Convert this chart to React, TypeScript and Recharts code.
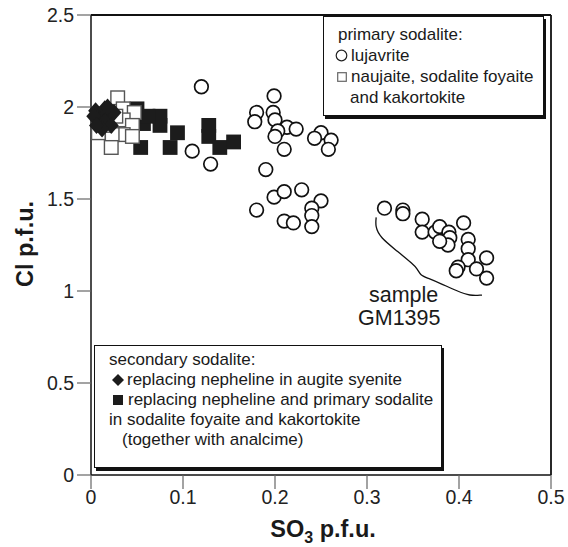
import { ScatterChart, Scatter, XAxis, YAxis, ReferenceLine } from "recharts"

const FONT = "'Liberation Sans', Arial, Helvetica, sans-serif"

const so3Ticks = [0, 0.1, 0.2, 0.3, 0.4, 0.5]
const clTicks = [0, 0.5, 1, 1.5, 2, 2.5]

// primary sodalite, lujavrite
const lujavriteSO3 = [
 0.120, 0.110, 0.130, 0.199, 0.180, 0.178, 0.198, 0.200, 0.213, 0.223, 0.203, 0.200,
 0.210, 0.250, 0.243, 0.261, 0.258, 0.190, 0.199, 0.210, 0.229, 0.180, 0.210, 0.220,
 0.250, 0.240, 0.240, 0.240, 0.319, 0.339, 0.339, 0.360, 0.360, 0.374, 0.379, 0.389,
 0.390, 0.388, 0.379, 0.405, 0.410, 0.410, 0.410, 0.430, 0.399, 0.397, 0.419, 0.430
]
const lujavriteCl = [
 2.11, 1.76, 1.69, 2.06, 1.97, 1.92, 1.97, 1.93, 1.89, 1.88, 1.87, 1.84,
 1.77, 1.86, 1.83, 1.82, 1.77, 1.66, 1.51, 1.54, 1.55, 1.44, 1.38, 1.37,
 1.49, 1.45, 1.41, 1.35, 1.45, 1.44, 1.42, 1.39, 1.32, 1.32, 1.35, 1.32,
 1.29, 1.25, 1.27, 1.37, 1.28, 1.23, 1.17, 1.18, 1.13, 1.11, 1.12, 1.07
]

// primary sodalite, naujaite / sodalite foyaite / kakortokite
const naujaiteSO3 = [0.029, 0.035, 0.047, 0.035, 0.045, 0.035, 0.023, 0.022, 0.008, 0.045, 0.015, 0.027]
const naujaiteCl = [2.05, 1.99, 1.97, 1.93, 1.90, 1.85, 1.85, 1.78, 1.86, 1.84, 1.90, 1.95]

// secondary sodalite replacing nepheline (+ primary sodalite)
const replacingSO3 = [0.050, 0.057, 0.075, 0.075, 0.094, 0.054, 0.086, 0.128, 0.128, 0.140, 0.155, 0.062]
const replacingCl = [1.99, 1.91, 1.95, 1.90, 1.86, 1.78, 1.78, 1.90, 1.84, 1.78, 1.81, 1.95]

// secondary sodalite in augite syenite
const augiteSO3 = [0.005, 0.010, 0.015, 0.020, 0.008, 0.015, 0.022, 0.012, 0.003, 0.025, 0.018, 0.006]
const augiteCl = [1.98, 1.96, 1.99, 1.95, 1.93, 1.92, 1.90, 1.88, 1.95, 1.97, 2.00, 1.90]

// bracket around sample GM1395
const bracketSO3 = [0.310, 0.309, 0.314, 0.333, 0.350, 0.355, 0.358, 0.366, 0.379, 0.398, 0.412, 0.425]
const bracketCl = [1.400, 1.351, 1.292, 1.216, 1.146, 1.119, 1.086, 1.070, 1.043, 1.000, 0.973, 0.978]

const pts = (xs: number[], ys: number[]) => xs.map((x, i) => ({ so3: x, cl: ys[i] }))

const OpenCircle = (p: any) => (
 <circle cx={p.cx} cy={p.cy} r={6.8} fill="#fff" stroke="#111" strokeWidth={1.7} />
)
const OpenSquare = (p: any) => (
 <rect x={p.cx - 6.8} y={p.cy - 6.8} width={13.6} height={13.6} fill="#fff" stroke="#555" strokeWidth={1.4} />
)
const FilledSquare = (p: any) => (
 <rect x={p.cx - 7.4} y={p.cy - 7.4} width={14.8} height={14.8} fill="#1c1c1c" />
)
const Diamond = (p: any) => (
 <path d={`M${p.cx},${p.cy - 8.5}L${p.cx + 7.5},${p.cy}L${p.cx},${p.cy + 8.5}L${p.cx - 7.5},${p.cy}Z`} fill="#1c1c1c" />
)
const NoMark = () => <g />

const YTitle = () => (
 <text x={25} y={244} transform="rotate(-90 25 244)" textAnchor="middle" dominantBaseline="central"
  fontFamily={FONT} fontWeight="bold" fontSize={23.5} fill="#1a1a1a">
  Cl p.f.u.
 </text>
)
const XTitle = () => (
 <text x={323} y={537} textAnchor="middle" fontFamily={FONT} fontWeight="bold" fontSize={23.5} fill="#1a1a1a">
  <tspan>SO</tspan>
  <tspan dy={6} fontSize={16}>3</tspan>
  <tspan dy={-6}> p.f.u.</tspan>
 </text>
)

const legendText: any = { fontFamily: FONT, fontSize: 17, color: "#1a1a1a", lineHeight: "21px", whiteSpace: "nowrap" }

export default function App() {
 return (
  <div style={{ position: "absolute", left: 0, top: 0, width: 568, height: 547, background: "#fff" }}>
   <ScatterChart width={568} height={547} margin={{ top: 15, right: 17, bottom: 32, left: 31 }}>
    <XAxis type="number" dataKey="so3" domain={[0, 0.5]} ticks={so3Ticks} height={40}
     tickSize={14} tickMargin={1} axisLine={{ stroke: "#111", strokeWidth: 1.5 }}
     tickLine={{ stroke: "#666", strokeWidth: 1.2 }}
     tick={{ fontSize: 19.5, fill: "#222", fontFamily: FONT }} label={<XTitle />} />
    <YAxis type="number" dataKey="cl" domain={[0, 2.5]} ticks={clTicks} width={60}
     tickSize={14} tickMargin={3} axisLine={{ stroke: "#111", strokeWidth: 1.5 }}
     tickLine={{ stroke: "#666", strokeWidth: 1.2 }}
     tick={{ fontSize: 19.5, fill: "#222", fontFamily: FONT }} label={<YTitle />} />
    <ReferenceLine y={2.5} stroke="#111" strokeWidth={1.8} />
    <ReferenceLine x={0.5} stroke="#111" strokeWidth={1.8} />
    <Scatter data={pts(lujavriteSO3, lujavriteCl)} shape={OpenCircle} isAnimationActive={false} />
    <Scatter data={pts(replacingSO3, replacingCl)} shape={FilledSquare} isAnimationActive={false} />
    <Scatter data={pts(naujaiteSO3, naujaiteCl)} shape={OpenSquare} isAnimationActive={false} />
    <Scatter data={pts(augiteSO3, augiteCl)} shape={Diamond} isAnimationActive={false} />
    <Scatter data={pts(bracketSO3, bracketCl)} shape={NoMark} line={{ stroke: "#111", strokeWidth: 1.3 }}
     lineJointType="basis" isAnimationActive={false} />
   </ScatterChart>

   <div style={{ ...legendText, position: "absolute", left: 369, top: 284, fontSize: 21.5, lineHeight: "23px" }}>
    sample<br />
    <span style={{ marginLeft: -11 }}>GM1395</span>
   </div>

   <div style={{
    position: "absolute", left: 323, top: 16, width: 221, height: 100, boxSizing: "border-box",
    border: "1.5px solid #111", boxShadow: "2px 3px 0 #111", background: "#fff", padding: "7px 0 0 14px"
   }}>
    <div style={legendText}>primary sodalite:</div>
    <div style={{ ...legendText, marginLeft: -3 }}>
     <svg width={13} height={13} style={{ verticalAlign: -1, marginRight: 3 }}>
      <circle cx={6.5} cy={6.5} r={5.3} fill="#fff" stroke="#222" strokeWidth={1.2} />
     </svg>
     lujavrite
    </div>
    <div style={{ ...legendText, marginLeft: -1 }}>
     <svg width={10} height={10} style={{ verticalAlign: 0, marginRight: 4 }}>
      <rect x={0.7} y={0.7} width={8.6} height={8.6} fill="#fff" stroke="#666" strokeWidth={1.2} />
     </svg>
     naujaite, sodalite foyaite
    </div>
    <div style={{ ...legendText, marginLeft: 12 }}>and kakortokite</div>
   </div>

   <div style={{
    position: "absolute", left: 94, top: 345, width: 348, height: 123, boxSizing: "border-box",
    border: "1.5px solid #111", boxShadow: "2px 3px 0 #111", background: "#fff", padding: "4px 0 0 14px",
    ...{ lineHeight: "20px" }
   }}>
    <div style={{ ...legendText, lineHeight: "20px" }}>secondary sodalite:</div>
    <div style={{ ...legendText, lineHeight: "20px", marginLeft: 3 }}>
     <svg width={12} height={12} style={{ verticalAlign: -1, marginRight: 3 }}>
      <path d="M6,0L12,6L6,12L0,6Z" fill="#1c1c1c" />
     </svg>
     replacing nepheline in augite syenite
    </div>
    <div style={{ ...legendText, lineHeight: "20px", marginLeft: 4 }}>
     <svg width={10} height={10} style={{ verticalAlign: 0, marginRight: 5 }}>
      <rect x={0} y={0} width={10} height={10} fill="#1c1c1c" />
     </svg>
     replacing nepheline and primary sodalite
    </div>
    <div style={{ ...legendText, lineHeight: "20px" }}>in sodalite foyaite and kakortokite</div>
    <div style={{ ...legendText, lineHeight: "20px", marginLeft: 13 }}>(together with analcime)</div>
   </div>
  </div>
 )
}
